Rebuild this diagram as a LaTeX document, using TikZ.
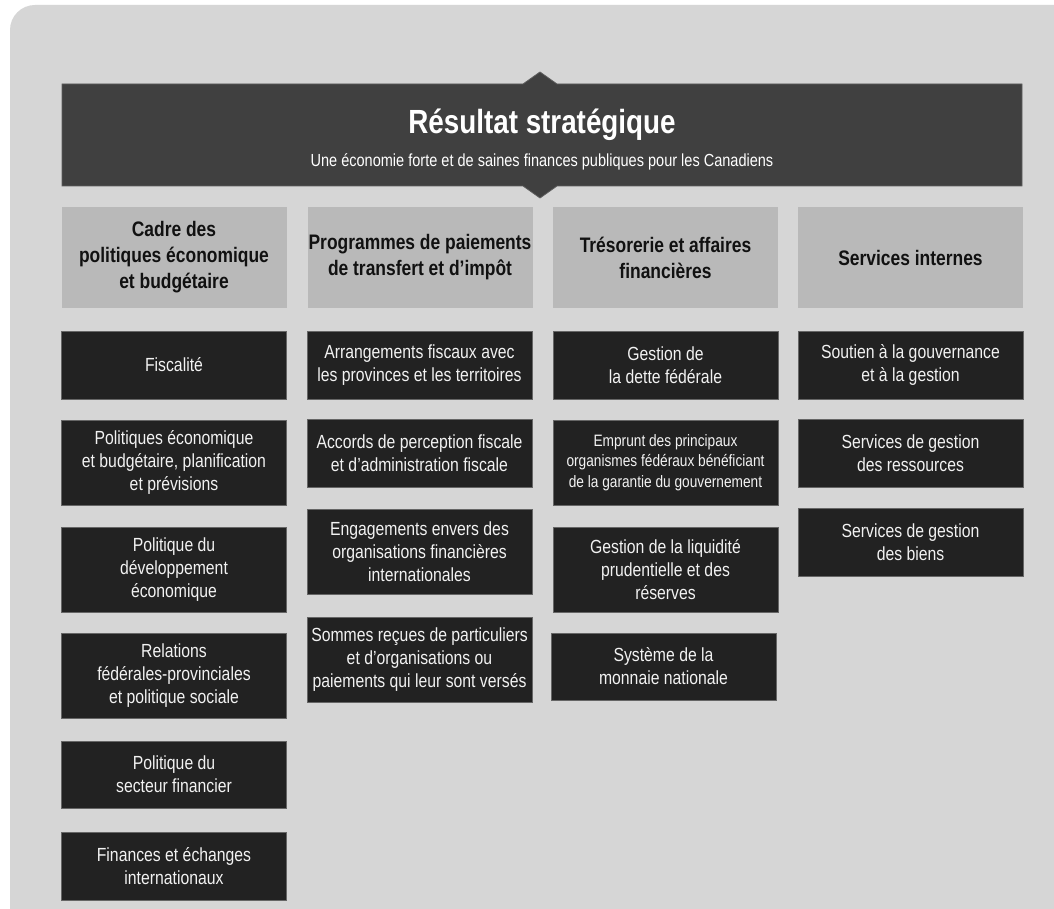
\documentclass[tikz,border=0pt]{standalone}
\usepackage{fontspec}
\setmainfont{Liberation Sans}[FakeStretch=0.83]
\definecolor{bggray}{HTML}{D6D6D6}
\definecolor{hdark}{HTML}{404040}
\definecolor{hborder}{HTML}{5E5E5E}
\definecolor{catfill}{HTML}{B9B9B9}
\definecolor{boxfill}{HTML}{222222}
\definecolor{boxborder}{HTML}{666666}
\definecolor{boxtext}{HTML}{F2F2F2}
\definecolor{cattext}{HTML}{111111}
\tikzset{
  cathead/.style={rectangle, fill=catfill, draw=none, minimum width=225pt, minimum height=101pt,
    inner sep=0pt, align=center, text=cattext, font=\fontsize{21}{26}\selectfont\bfseries},
  itembox/.style={rectangle, fill=boxfill, draw=boxborder, line width=0.8pt, minimum width=225pt,
    inner sep=0pt, align=center, text=boxtext, font=\fontsize{19}{23}\selectfont},
  smallitem/.style={itembox, font=\fontsize{16.5}{20.5}\selectfont},
}
\begin{document}
\begin{tikzpicture}[x=1pt,y=-1pt]
\useasboundingbox (0,0) rectangle (1054,909);
\clip (0,0) rectangle (1054,909);
\fill[white] (0,0) rectangle (1054,909);
\fill[bggray, rounded corners=25pt] (10,5) rectangle (1090,960);

% strategic outcome banner
\draw[fill=hdark, draw=hborder, line width=0.8pt]
  (62,84) -- (523,84) -- (540,72) -- (557,84) -- (1022,84) -- (1022,186)
  -- (557,186) -- (540,198) -- (523,186) -- (62,186) -- cycle;
\node[anchor=base, text=white, font=\fontsize{33.5}{38}\selectfont\bfseries, inner sep=0pt] (title) at (542,134) {Résultat stratégique};
\node[anchor=base, text=white, font=\fontsize{17.5}{21}\selectfont, inner sep=0pt] (subtitle) at (542,167) {Une économie forte et de saines finances publiques pour les Canadiens};

% column headers
\node[cathead] (h1) at (174,257.5) {Cadre des\\politiques économique\\et budgétaire};
\node[cathead] (h2) at (420,257.5) {Programmes de paiements\\de transfert et d’impôt};
\node[cathead] (h3) at (665.5,257.5) {Trésorerie et affaires\\financières};
\node[cathead] (h4) at (910.5,257.5) {Services internes};

% column 1
\node[itembox, minimum height=68pt] (a1) at (174,365) {Fiscalité};
\node[itembox, minimum height=85pt] (a2) at (174,462.5) {Politiques économique\\et budgétaire, planification\\et prévisions};
\node[itembox, minimum height=85pt] (a3) at (174,569.5) {Politique du\\développement\\économique};
\node[itembox, minimum height=85pt] (a4) at (174,675.5) {Relations\\fédérales-provinciales\\et politique sociale};
\node[itembox, minimum height=67pt] (a5) at (174,774.5) {Politique du\\secteur financier};
\node[itembox, minimum height=68pt] (a6) at (174,866) {Finances et échanges\\internationaux};

% column 2
\node[itembox, minimum height=68pt] (b1) at (419.5,365) {Arrangements fiscaux avec\\les provinces et les territoires};
\node[itembox, minimum height=68pt] (b2) at (419.5,453) {Accords de perception fiscale\\et d’administration fiscale};
\node[itembox, minimum height=85pt] (b3) at (419.5,551.5) {Engagements envers des\\organisations financières\\internationales};
\node[itembox, minimum height=85pt] (b4) at (419.5,659.5) {Sommes reçues de particuliers\\et d’organisations ou\\paiements qui leur sont versés};

% column 3
\node[itembox, minimum height=68pt] (c1) at (665.5,365) {Gestion de\\la dette fédérale};
\node[smallitem, minimum height=85pt] (c2) at (665.5,462.5) {Emprunt des principaux\\organismes fédéraux bénéficiant\\de la garantie du gouvernement};
\node[itembox, minimum height=85pt] (c3) at (665.5,569.5) {Gestion de la liquidité\\prudentielle et des\\réserves};
\node[itembox, minimum height=67pt] (c4) at (663.5,666.5) {Système de la\\monnaie nationale};

% column 4
\node[itembox, minimum height=68pt] (d1) at (910.5,365) {Soutien à la gouvernance\\et à la gestion};
\node[itembox, minimum height=68pt] (d2) at (910.5,453) {Services de gestion\\des ressources};
\node[itembox, minimum height=68pt] (d3) at (910.5,542) {Services de gestion\\des biens};
\end{tikzpicture}
\end{document}
